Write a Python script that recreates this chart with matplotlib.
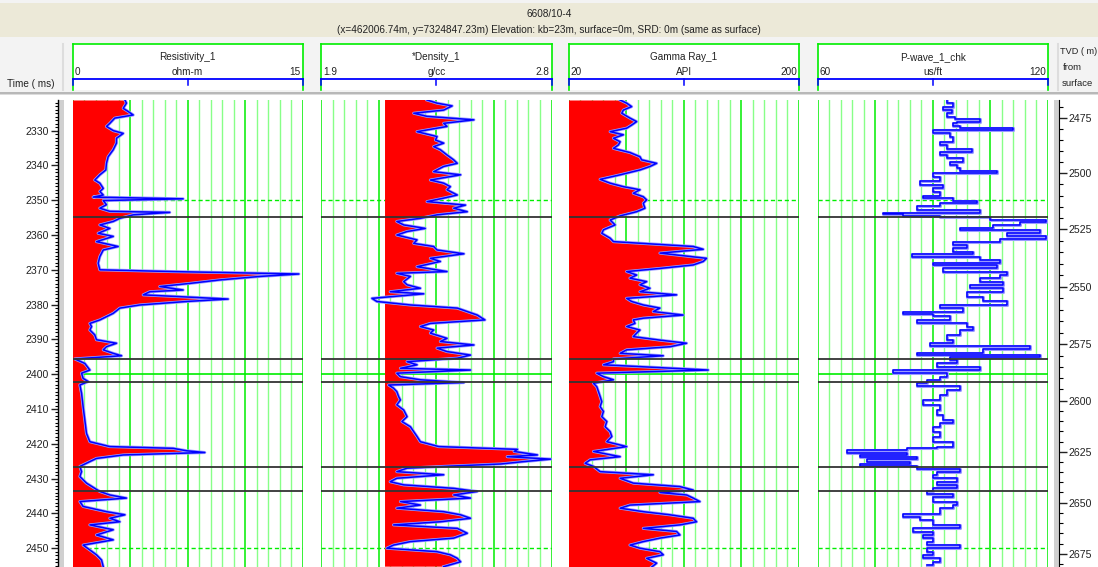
import numpy as np
import matplotlib.pyplot as plt
from matplotlib.ticker import MultipleLocator, FixedLocator, FuncFormatter

# Well 6608/10-4, log display in two-way time
WELL = "6608/10-4"
WELL_INFO = "(x=462006.74m, y=7324847.23m) Elevation: kb=23m, surface=0m, SRD: 0m (same as surface)"

# time window shown (ms)
T_TOP, T_BOT = 2321.2, 2455.4

# resistivity (ohm-m)
res_t = [2321.2, 2322.1, 2323.6, 2324.5, 2325.5, 2326.4, 2327.9, 2328.8, 2330.0, 2330.8,
         2332.2, 2333.6, 2335.5, 2337.5, 2339.4, 2341.3, 2342.7, 2344.2, 2345.1, 2346.6,
         2347.5, 2348.5, 2349.1, 2349.6, 2350.1, 2351.3, 2352.3, 2353.2, 2353.5, 2354.2,
         2355.2, 2356.1, 2357.1, 2358.1, 2359.5, 2360.4, 2361.9, 2363.3, 2364.3, 2366.2,
         2368.1, 2370.0, 2370.5, 2371.2, 2371.9, 2372.9, 2373.9, 2374.8, 2375.8, 2376.3,
         2377.2, 2378.4, 2379.1, 2380.1, 2381.0, 2382.5, 2384.4, 2385.4, 2386.3, 2387.3,
         2388.7, 2390.1, 2391.1, 2392.1, 2393.0, 2394.0, 2394.7, 2395.6, 2396.9, 2398.8,
         2399.7, 2401.2, 2402.1, 2403.1, 2405.5, 2409.3, 2413.1, 2417.0, 2419.4, 2420.8,
         2421.3, 2422.0, 2422.5, 2423.2, 2424.2, 2425.1, 2426.5, 2428.0, 2429.4, 2431.3,
         2432.8, 2433.7, 2434.7, 2435.6, 2436.6, 2438.0, 2439.5, 2440.4, 2441.4, 2442.4,
         2443.3, 2444.7, 2446.2, 2447.6, 2449.1, 2450.5, 2451.9, 2453.4, 2455.3]
res_v = [3.41, 3.51, 3.30, 3.62, 3.95, 2.75, 2.43, 2.21, 2.65, 3.30,
         2.86, 2.86, 2.65, 2.32, 2.21, 2.17, 1.78, 1.45, 1.78, 2.00,
         1.78, 2.00, 1.34, 7.20, 2.00, 2.21, 1.78, 2.43, 6.33, 3.95,
         3.08, 2.65, 1.78, 2.43, 1.67, 2.65, 1.56, 2.97, 2.00, 1.78,
         1.67, 1.78, 6.44, 14.73, 12.19, 9.59, 7.64, 5.68, 7.20, 5.03,
         4.60, 10.13, 7.42, 4.38, 3.08, 2.65, 1.78, 1.13, 1.24, 1.13,
         1.45, 1.56, 2.86, 2.21, 2.00, 2.65, 3.19, 0.15, 0.80, 1.13,
         0.59, 0.69, 1.02, 0.48, 0.59, 0.69, 0.80, 0.91, 1.13, 2.43,
         6.55, 7.42, 8.61, 3.30, 1.56, 1.13, 0.48, 0.59, 0.48, 0.91,
         1.45, 1.78, 2.43, 3.51, 0.48, 0.69, 2.21, 3.41, 2.43, 3.08,
         1.13, 2.65, 1.56, 2.65, 0.69, 1.13, 1.56, 1.89, 2.00]

# bulk density (g/cc)
den_t = [2321.2, 2322.1, 2322.9, 2324.1, 2325.0, 2325.9, 2326.9, 2327.9, 2328.8, 2330.3,
         2331.7, 2332.7, 2333.6, 2334.6, 2335.5, 2337.0, 2338.4, 2339.4, 2340.3, 2341.8,
         2342.7, 2344.2, 2345.1, 2346.1, 2347.0, 2348.5, 2349.4, 2350.4, 2351.4, 2352.3,
         2353.3, 2354.2, 2355.2, 2356.1, 2357.1, 2358.1, 2359.0, 2360.0, 2361.4, 2362.4,
         2363.3, 2364.3, 2365.4, 2366.7, 2367.6, 2369.1, 2370.5, 2371.0, 2371.9, 2373.4,
         2374.3, 2375.3, 2376.3, 2376.9, 2378.2, 2379.1, 2380.1, 2381.0, 2382.0, 2383.0,
         2384.4, 2385.4, 2386.3, 2387.3, 2388.2, 2389.7, 2390.6, 2391.6, 2392.5, 2393.5,
         2394.5, 2395.4, 2396.4, 2397.3, 2398.3, 2398.8, 2399.7, 2400.7, 2401.6, 2402.4,
         2403.1, 2404.0, 2405.0, 2406.4, 2407.4, 2408.8, 2410.3, 2412.2, 2413.6, 2415.1,
         2416.5, 2417.9, 2419.4, 2420.8, 2421.6, 2422.2, 2423.2, 2423.7, 2424.4, 2425.1,
         2425.8, 2426.4, 2427.0, 2428.0, 2428.9, 2429.9, 2430.9, 2431.8, 2432.8, 2433.7,
         2434.7, 2435.6, 2436.6, 2437.6, 2438.5, 2439.5, 2440.4, 2441.4, 2442.4, 2443.3,
         2444.3, 2445.7, 2447.1, 2448.1, 2449.1, 2450.0, 2451.0, 2451.9, 2452.9, 2453.9,
         2455.3]
den_v = [2.314, 2.353, 2.412, 2.379, 2.262, 2.314, 2.497, 2.379, 2.392, 2.275,
         2.353, 2.347, 2.379, 2.340, 2.366, 2.392, 2.418, 2.432, 2.379, 2.340,
         2.445, 2.327, 2.379, 2.405, 2.392, 2.432, 2.379, 2.314, 2.464, 2.418,
         2.471, 2.353, 2.288, 2.196, 2.223, 2.307, 2.236, 2.196, 2.275, 2.262,
         2.340, 2.353, 2.458, 2.327, 2.366, 2.275, 2.392, 2.196, 2.249, 2.223,
         2.236, 2.288, 2.170, 2.301, 2.099, 2.118, 2.249, 2.432, 2.471, 2.510,
         2.540, 2.327, 2.288, 2.340, 2.327, 2.392, 2.366, 2.497, 2.353, 2.392,
         2.484, 2.432, 2.236, 2.275, 2.210, 2.484, 2.196, 2.210, 2.288, 2.458,
         2.164, 2.183, 2.196, 2.203, 2.210, 2.196, 2.223, 2.236, 2.216, 2.249,
         2.262, 2.275, 2.288, 2.360, 2.667, 2.654, 2.745, 2.627, 2.797, 2.693,
         2.601, 2.405, 2.236, 2.196, 2.379, 2.196, 2.170, 2.223, 2.418, 2.510,
         2.418, 2.484, 2.210, 2.288, 2.196, 2.379, 2.445, 2.484, 2.366, 2.183,
         2.432, 2.471, 2.418, 2.249, 2.183, 2.157, 2.353, 2.405, 2.432, 2.445,
         2.379]
DEN_BASE = 2.15

# gamma ray (API)
gr_t = [2321.2, 2322.1, 2323.1, 2324.1, 2325.0, 2326.4, 2327.4, 2328.4, 2329.3, 2330.3,
        2331.2, 2332.2, 2333.2, 2334.1, 2335.1, 2336.3, 2337.5, 2338.4, 2339.4, 2340.3,
        2341.3, 2342.7, 2344.0, 2345.1, 2346.1, 2347.0, 2348.0, 2349.0, 2349.9, 2350.9,
        2352.3, 2353.3, 2354.5, 2355.7, 2357.1, 2358.5, 2359.5, 2360.9, 2361.9, 2362.6,
        2363.3, 2364.1, 2365.2, 2366.7, 2367.6, 2368.6, 2369.6, 2370.5, 2371.5, 2372.4,
        2373.4, 2374.3, 2375.3, 2376.3, 2377.2, 2378.2, 2379.1, 2380.1, 2381.0, 2382.0,
        2383.0, 2383.9, 2384.4, 2385.4, 2386.3, 2387.3, 2388.2, 2389.2, 2390.2, 2391.1,
        2392.1, 2393.0, 2394.0, 2394.7, 2395.6, 2396.4, 2397.3, 2398.8, 2399.7, 2400.7,
        2401.6, 2402.6, 2403.6, 2405.0, 2406.4, 2407.9, 2409.3, 2410.7, 2412.2, 2413.6,
        2415.1, 2416.5, 2417.9, 2419.4, 2420.8, 2422.2, 2423.7, 2424.6, 2425.6, 2426.5,
        2428.0, 2428.9, 2429.9, 2431.3, 2432.3, 2433.3, 2434.0, 2434.7, 2435.6, 2436.6,
        2437.6, 2438.5, 2439.5, 2440.4, 2441.4, 2442.4, 2443.3, 2444.3, 2445.2, 2446.2,
        2447.1, 2448.1, 2449.1, 2450.0, 2451.0, 2451.9, 2452.9, 2454.3, 2455.4]
gr_v = [60.3, 65.4, 69.3, 62.8, 61.6, 68.0, 73.2, 69.3, 65.4, 52.5,
        62.8, 55.1, 60.3, 59.0, 55.1, 68.0, 75.8, 77.1, 88.8, 83.6,
        75.8, 60.3, 44.7, 52.5, 62.8, 75.8, 70.6, 78.4, 81.0, 78.4,
        79.7, 73.2, 60.3, 52.5, 56.4, 47.3, 46.0, 52.5, 55.1, 86.2,
        117.4, 125.2, 91.4, 127.8, 125.2, 117.4, 91.4, 65.4, 73.2, 68.0,
        81.0, 75.8, 83.6, 75.8, 104.4, 65.4, 69.3, 78.4, 91.4, 86.2,
        109.6, 78.4, 70.6, 71.9, 65.4, 75.8, 73.2, 70.6, 91.4, 112.2,
        99.2, 65.4, 60.3, 94.0, 55.1, 55.1, 47.3, 129.1, 42.1, 47.3,
        55.1, 39.5, 42.1, 43.4, 44.7, 46.0, 44.7, 47.3, 46.0, 49.9,
        48.6, 52.5, 53.8, 49.9, 65.4, 39.5, 60.3, 36.9, 33.0, 39.5,
        44.7, 86.2, 60.3, 70.6, 107.0, 117.4, 91.4, 112.2, 117.4, 122.6,
        68.0, 60.3, 78.4, 99.2, 117.4, 120.0, 107.0, 78.4, 104.4, 107.0,
        91.4, 78.4, 68.0, 75.8, 91.4, 94.0, 81.0, 88.8, 85.0]

# P-wave slowness (us/ft)
pw_t = [2321.2, 2322.1, 2323.1, 2324.1, 2325.0, 2326.0, 2326.7, 2327.4, 2327.9, 2328.8,
        2329.3, 2329.8, 2330.8, 2331.7, 2333.2, 2334.1, 2335.4, 2336.0, 2337.0, 2337.9,
        2338.9, 2339.9, 2340.8, 2341.5, 2342.3, 2343.2, 2344.6, 2345.6, 2346.6, 2347.5,
        2348.8, 2349.4, 2350.1, 2350.9, 2351.8, 2352.8, 2353.6, 2353.9, 2354.5, 2354.9,
        2355.7, 2356.4, 2357.1, 2357.9, 2358.5, 2359.5, 2360.4, 2361.2, 2361.9, 2362.8,
        2363.8, 2364.8, 2365.4, 2366.2, 2367.2, 2367.9, 2368.6, 2369.5, 2370.5, 2371.5,
        2372.4, 2373.4, 2374.3, 2375.3, 2376.3, 2377.7, 2379.1, 2380.1, 2381.0, 2382.0,
        2382.7, 2383.4, 2384.4, 2385.4, 2386.3, 2387.3, 2388.7, 2390.2, 2391.1, 2391.9,
        2392.8, 2393.8, 2394.5, 2395.1, 2395.9, 2396.9, 2397.8, 2398.9, 2399.7, 2400.9,
        2401.8, 2402.6, 2403.4, 2404.5, 2406.0, 2407.4, 2408.8, 2410.3, 2411.7, 2413.1,
        2414.1, 2415.1, 2416.5, 2417.9, 2419.4, 2420.8, 2421.3, 2421.9, 2422.5, 2423.2,
        2423.9, 2424.4, 2425.1, 2425.8, 2426.5, 2427.3, 2428.0, 2428.9, 2429.9, 2430.9,
        2431.8, 2432.8, 2433.7, 2434.4, 2435.2, 2436.6, 2437.6, 2438.5, 2439.5, 2440.2,
        2440.9, 2441.9, 2443.3, 2444.3, 2445.2, 2446.2, 2447.1, 2448.1, 2449.1, 2450.0,
        2451.0, 2451.9, 2452.9, 2453.9, 2454.8]
pw_v = [93.6, 95.3, 92.7, 94.9, 93.6, 95.8, 102.3, 96.2, 95.3, 97.1,
        110.9, 90.1, 94.5, 95.3, 91.9, 93.6, 100.1, 91.9, 93.6, 97.9,
        94.5, 96.2, 97.1, 106.6, 90.1, 91.9, 86.7, 92.7, 90.1, 91.9,
        87.5, 95.3, 101.4, 91.9, 85.8, 102.3, 77.1, 82.3, 91.9, 104.8,
        119.6, 112.6, 105.7, 97.1, 117.8, 109.2, 119.6, 107.4, 95.3, 98.8,
        95.3, 100.5, 84.5, 102.3, 107.4, 90.1, 106.6, 92.7, 109.2, 107.4,
        102.3, 108.3, 99.7, 108.3, 98.8, 103.1, 109.2, 91.9, 97.9, 82.3,
        90.1, 94.5, 85.8, 98.8, 100.5, 97.1, 93.6, 95.3, 89.3, 115.2,
        103.1, 85.8, 117.8, 94.5, 96.2, 91.0, 102.3, 79.7, 93.6, 91.9,
        88.4, 85.8, 97.1, 93.6, 91.9, 87.5, 91.9, 91.0, 92.7, 95.3,
        91.9, 90.1, 91.9, 90.1, 95.3, 91.0, 83.2, 67.6, 83.2, 71.1,
        85.8, 72.8, 84.1, 71.1, 85.8, 97.1, 91.0, 90.1, 96.2, 91.0,
        96.2, 90.1, 88.4, 95.3, 90.1, 96.2, 95.3, 91.9, 91.9, 82.3,
        86.7, 90.1, 97.1, 84.9, 90.1, 87.5, 90.1, 88.4, 97.1, 88.4,
        90.1, 87.5, 91.9, 90.1, 88.4]

# formation tops (ms) and TVD ticks with their times
tops_t = [2354.8, 2395.6, 2402.3, 2426.6, 2433.7]
tvd_ticks = [2475, 2500, 2525, 2550, 2575, 2600, 2625, 2650, 2675]
tvd_time = [2326.4, 2342.2, 2358.4, 2374.9, 2391.4, 2407.6, 2422.3, 2436.9, 2451.6]

tracks = [
    dict(name="Resistivity_1", unit="ohm-m", lo=0, hi=15, lo_lbl="0", hi_lbl="15",
         t=res_t, v=res_v, base=0, steps=False),
    dict(name="*Density_1", unit="g/cc", lo=1.9, hi=2.8, lo_lbl="1.9", hi_lbl="2.8",
         t=den_t, v=den_v, base=DEN_BASE, steps=False),
    dict(name="Gamma Ray_1", unit="API", lo=20, hi=200, lo_lbl="20", hi_lbl="200",
         t=gr_t, v=gr_v, base=20, steps=False),
    dict(name="P-wave_1_chk", unit="us/ft", lo=60, hi=120, lo_lbl="60", hi_lbl="120",
         t=pw_t, v=pw_v, base=None, steps=True),
]

W, H = 1098, 567
PLOT_TOP = 100
track_left = [72.5, 321.0, 568.5, 817.5]
TRACK_W = 230.5

FONT = ['Liberation Sans', 'DejaVu Sans']
TXT = '#222222'
GREEN = '#00ee00'
LGREEN = '#88ff88'
BLUE = '#0000ff'
SHADOW = '#9a9aff'

fig = plt.figure(figsize=(W / 100, H / 100), dpi=100)
fig.patch.set_facecolor('white')

# background layer in pixel units for the header decoration
bg = fig.add_axes([0, 0, 1, 1])
bg.set_xlim(0, W)
bg.set_ylim(H, 0)
bg.axis('off')
bg.add_patch(plt.Rectangle((0, 0), W, 93, color='#f3f3f3', lw=0))
bg.add_patch(plt.Rectangle((0, 3), W, 34, color='#ece9d8', lw=0))
bg.add_patch(plt.Rectangle((0, 91.5), W, 2.2, color='#b8b8b8', lw=0))
bg.add_patch(plt.Rectangle((0, 93.7), W, 1.6, color='#dcdcdc', lw=0))
bg.text(W / 2, 14, WELL, ha='center', va='center', fontsize=7.2, family=FONT, color=TXT)
bg.text(W / 2, 30, WELL_INFO, ha='center', va='center', fontsize=7.2, family=FONT, color=TXT)
bg.plot([63, 63], [44, 90], color='#dddddd', lw=1.5)
bg.plot([1057.5, 1057.5], [44, 90], color='#dddddd', lw=1.5)
bg.text(7, 84, "Time ( ms)", ha='left', va='center', fontsize=7.2, family=FONT, color=TXT)
bg.text(1059.5, 52, "TVD ( m)", ha='left', va='center', fontsize=6.6, family=FONT, color=TXT)
bg.text(1063, 68, "from", ha='left', va='center', fontsize=6.8, family=FONT, color=TXT)
bg.text(1061.5, 84, "surface", ha='left', va='center', fontsize=6.8, family=FONT, color=TXT)

for x0, tr in zip(track_left, tracks):
    x1 = x0 + TRACK_W
    xm = (x0 + x1) / 2
    bg.add_patch(plt.Rectangle((x0, 44), TRACK_W, 46, color='white', lw=0))
    bg.plot([x0, x1], [44, 44], color=GREEN, lw=1.2)
    bg.plot([x0, x0], [44, 90], color=GREEN, lw=1.2)
    bg.plot([x1, x1], [44, 90], color=GREEN, lw=1.2)
    bg.plot([x0, x1], [79, 79], color=BLUE, lw=1.3)
    for xt in (x0, xm, x1):
        bg.plot([xt, xt], [79, 85], color=BLUE, lw=1.1)
    bg.text(xm, 57, tr['name'], ha='center', va='center', fontsize=7.2, family=FONT, color=TXT)
    bg.text(xm, 72, tr['unit'], ha='center', va='center', fontsize=7.2, family=FONT, color=TXT)
    bg.text(x0 + 2, 72, tr['lo_lbl'], ha='left', va='center', fontsize=7.2, family=FONT, color=TXT)
    bg.text(x1 - 2, 72, tr['hi_lbl'], ha='right', va='center', fontsize=7.2, family=FONT, color=TXT)

plot_h = (H - PLOT_TOP) / H

for x0, tr in zip(track_left, tracks):
    ax = fig.add_axes([x0 / W, 0, TRACK_W / W, plot_h])
    ax.set_xlim(tr['lo'], tr['hi'])
    ax.set_ylim(T_BOT, T_TOP)
    ax.axis('off')

    # 20 divisions, every fifth one stronger
    step = (tr['hi'] - tr['lo']) / 20
    for i in range(21):
        strong = i % 5 == 0
        ax.axvline(tr['lo'] + i * step, color=GREEN if strong else LGREEN,
                   lw=1.1 if strong else 1.0, zorder=1)
    ax.axhline(2350, color=GREEN, lw=1.0, ls=(0, (3, 2)), zorder=1)
    ax.axhline(2400, color=GREEN, lw=1.2, zorder=1)
    ax.axhline(2450, color=GREEN, lw=1.0, ls=(0, (3, 2)), zorder=1)

    t = np.array(tr['t'])
    v = np.array(tr['v'])
    if tr['base'] is not None:
        ax.fill_betweenx(t, tr['base'], v, where=v > tr['base'], interpolate=True,
                         color='#ff0000', lw=0, zorder=2)
    ds = 'steps-pre' if tr['steps'] else 'default'
    ax.plot(v, t, color=SHADOW, lw=2.2, zorder=3, drawstyle=ds)
    ax.plot(v, t, color=BLUE, lw=1.1, zorder=4, drawstyle=ds)

    for tt in tops_t:
        ax.axhline(tt, color='#333333', lw=1.3, zorder=5)

# left time axis
axl = fig.add_axes([58.5 / W, 0, 5 / W, plot_h])
axl.set_facecolor('#d0d0d0')
axl.set_ylim(T_BOT, T_TOP)
axl.set_xticks([])
for s in ('top', 'right', 'bottom'):
    axl.spines[s].set_visible(False)
axl.spines['left'].set_linewidth(1.0)
axl.yaxis.set_major_locator(MultipleLocator(10))
axl.yaxis.set_minor_locator(MultipleLocator(1))
axl.tick_params(axis='y', which='major', length=5, width=1, pad=2, labelsize=7.6, colors=TXT)
axl.tick_params(axis='y', which='minor', length=2.5, width=0.8)
for lbl in axl.get_yticklabels():
    lbl.set_family(FONT)

# right TVD axis (non-linear against time)
axr = fig.add_axes([1053.5 / W, 0, 5.5 / W, plot_h])
axr.set_facecolor('#d0d0d0')
axr.set_ylim(T_BOT, T_TOP)
axr.set_xticks([])
for s in ('top', 'left', 'bottom'):
    axr.spines[s].set_visible(False)
axr.yaxis.tick_right()
axr.yaxis.set_major_locator(FixedLocator(tvd_time))
axr.yaxis.set_major_formatter(FuncFormatter(lambda y, pos: str(tvd_ticks[pos]) if pos is not None else ''))
tvd_minor = np.arange(2465, 2685, 5)
minor_t = np.interp(tvd_minor, tvd_ticks, tvd_time)
# extend the time-depth relation linearly past the end ticks
k0 = (tvd_time[1] - tvd_time[0]) / 25
k1 = (tvd_time[-1] - tvd_time[-2]) / 25
minor_t = np.where(tvd_minor < tvd_ticks[0], tvd_time[0] + (tvd_minor - tvd_ticks[0]) * k0, minor_t)
minor_t = np.where(tvd_minor > tvd_ticks[-1], tvd_time[-1] + (tvd_minor - tvd_ticks[-1]) * k1, minor_t)
axr.yaxis.set_minor_locator(FixedLocator(minor_t))
axr.tick_params(axis='y', which='major', length=6, width=1, pad=1, labelsize=7.6, colors=TXT)
axr.tick_params(axis='y', which='minor', length=3, width=0.8)
for lbl in axr.get_yticklabels():
    lbl.set_family(FONT)

fig.savefig('out.png', dpi=100)
